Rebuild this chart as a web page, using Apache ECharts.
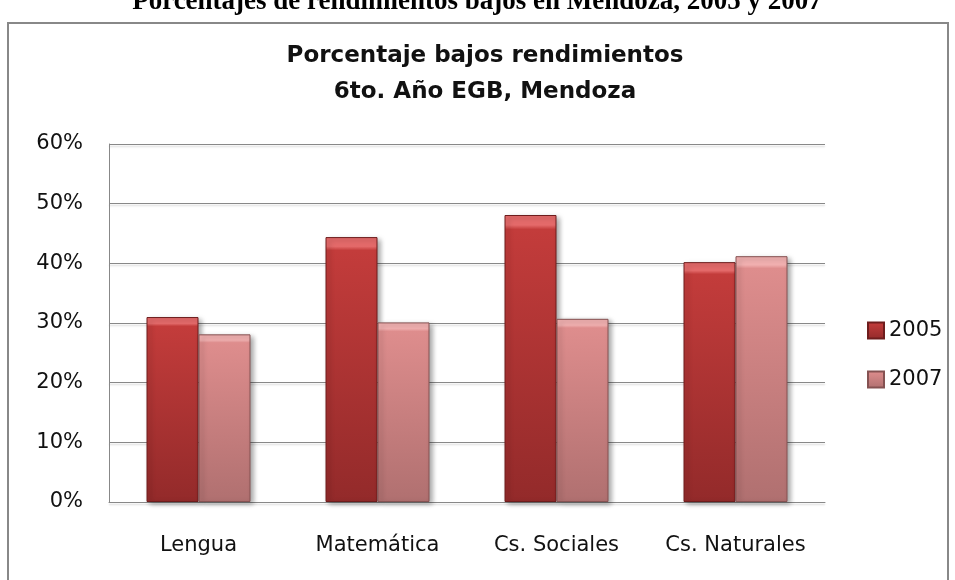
<!DOCTYPE html>
<html>
<head>
<meta charset="utf-8">
<script src="https://cdn.jsdelivr.net/npm/echarts@6/dist/echarts.min.js"></script>
<style>
  html, body { margin: 0; padding: 0; background: #fff; }
  #chart { width: 955px; height: 580px; }
</style>
</head>
<body>
<div id="chart"></div>
<script>
// datos
const categories = ["Lengua", "Matemática", "Cs. Sociales", "Cs. Naturales"];
const seriesNames = ["2005", "2007"];
const values2005 = [31.0, 44.4, 48.1, 40.2];
const values2007 = [28.1, 30.1, 30.7, 41.2];
const yMin = 0;
const yMax = 60;
const yStep = 10;

const labelFont = "DejaVu Sans";

function barGradient(light, top, bottom) {
  return new echarts.graphic.LinearGradient(0, 0, 0, 1, [
    { offset: 0, color: light },
    { offset: 0.035, color: light },
    { offset: 0.05, color: top },
    { offset: 1, color: bottom },
  ]);
}

const chart = echarts.init(document.getElementById("chart"));
const option = {
  animation: false,
  graphic: [
    // marco del grafico
    {
      type: "rect",
      shape: { x: 8, y: 23, width: 940, height: 600 },
      style: { fill: "none", stroke: "#888", lineWidth: 2 },
      silent: true,
    },
    // titulo del documento, cortado arriba
    {
      type: "text",
      x: 477,
      y: 2,
      style: {
        text: "Porcentajes de rendimientos bajos en Mendoza, 2005 y 2007",
        font: "bold 27px 'Liberation Serif'",
        fill: "#000",
        align: "center",
        verticalAlign: "middle",
      },
      silent: true,
    },
    // titulo del grafico
    {
      type: "text",
      x: 485,
      y: 38,
      style: {
        text: "Porcentaje bajos rendimientos\n6to. Año EGB, Mendoza",
        font: "bold 23px 'DejaVu Sans'",
        lineHeight: 36,
        fill: "#111",
        align: "center",
        verticalAlign: "top",
      },
      silent: true,
    },
  ],
  legend: {
    orient: "vertical",
    left: 862,
    top: 315,
    itemWidth: 16,
    itemHeight: 16,
    itemGap: 28,
    icon: "rect",
    textStyle: {
      fontFamily: labelFont,
      fontSize: 21,
      color: "#111",
    },
    data: seriesNames,
  },
  grid: {
    left: 109,
    right: 130,
    top: 144,
    bottom: 78,
  },
  xAxis: {
    type: "category",
    data: categories,
    axisLine: { show: true, lineStyle: { color: "#888", width: 1 } },
    axisTick: { show: false },
    axisLabel: {
      interval: 0,
      margin: 33,
      fontFamily: labelFont,
      fontSize: 21,
      color: "#111",
    },
  },
  yAxis: {
    type: "value",
    min: yMin,
    max: yMax,
    interval: yStep,
    axisLine: { show: true, lineStyle: { color: "#888", width: 1 } },
    axisTick: { show: false },
    splitLine: {
      show: true,
      lineStyle: {
        color: "#888",
        width: 1,
        shadowColor: "rgba(0,0,0,0.18)",
        shadowBlur: 2,
        shadowOffsetY: 2,
      },
    },
    axisLabel: {
      margin: 26,
      formatter: "{value}%",
      fontFamily: labelFont,
      fontSize: 21,
      color: "#111",
    },
  },
  series: [
    {
      name: seriesNames[0],
      type: "bar",
      barWidth: 52,
      barGap: "0%",
      data: values2005,
      itemStyle: {
        color: barGradient("#e46a6a", "#c33c3b", "#932a2a"),
        borderColor: "#6e1d1d",
        borderWidth: 1,
        shadowColor: "rgba(0,0,0,0.35)",
        shadowBlur: 5,
        shadowOffsetX: 3,
        shadowOffsetY: 2,
      },
    },
    {
      name: seriesNames[1],
      type: "bar",
      barWidth: 52,
      barGap: "0%",
      data: values2007,
      itemStyle: {
        color: barGradient("#f1b0b0", "#de8d8d", "#b07070"),
        borderColor: "#855252",
        borderWidth: 1,
        shadowColor: "rgba(0,0,0,0.35)",
        shadowBlur: 5,
        shadowOffsetX: 3,
        shadowOffsetY: 2,
      },
    },
  ],
};
chart.setOption(option);
</script>
</body>
</html>
